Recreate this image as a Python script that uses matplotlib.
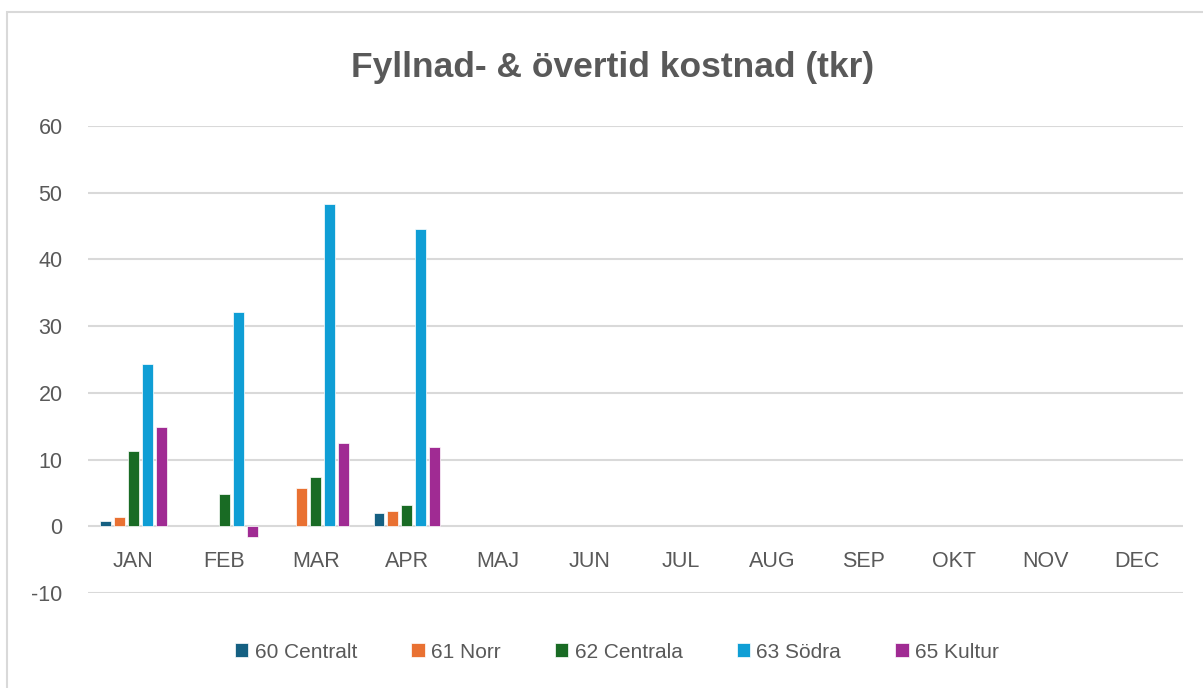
import matplotlib.pyplot as plt
import matplotlib.patches as patches
import numpy as np

# Data (empty months have no values)
months = ["JAN", "FEB", "MAR", "APR", "MAJ", "JUN", "JUL", "AUG", "SEP", "OKT", "NOV", "DEC"]
series_names = ["60 Centralt", "61 Norr", "62 Centrala", "63 Södra", "65 Kultur"]
centralt = [0.8, np.nan, np.nan, 1.95]
norr = [1.45, np.nan, 5.8, 2.35]
centrala = [11.25, 4.9, 7.35, 3.25]
sodra = [24.35, 32.15, 48.3, 44.6]
kultur = [14.95, -1.55, 12.55, 11.95]
colors = ["#156082", "#E97132", "#196B24", "#0F9ED5", "#A02B93"]

plt.rcParams["font.family"] = ["Liberation Sans", "DejaVu Sans"]
plt.rcParams["axes.unicode_minus"] = False
text_color = "#595959"

fig = plt.figure(figsize=(12.03, 6.88), dpi=100)
# outer chart border
fig.patches.append(patches.Rectangle((7 / 1203, -0.1), 1.2, (688 - 12) / 688 + 0.1,
                                     transform=fig.transFigure, fill=False,
                                     edgecolor="#d9d9d9", linewidth=1.5))

ax = fig.add_axes([87.5 / 1203, 1 - 593 / 688, (1182.6 - 87.5) / 1203, (593 - 126) / 688])

x = np.arange(len(months))
width = 0.12
step = 0.153
for i, (vals, name) in enumerate(zip([centralt, norr, centrala, sodra, kultur], series_names)):
    ax.bar(x[:len(vals)] + (i - 2) * step, vals, width, color=colors[i],
           edgecolor="white", linewidth=0.5, label=name, zorder=3)

ax.set_xlim(-0.5, len(months) - 0.5)
ax.set_ylim(-10, 60)
ax.set_yticks(range(-10, 61, 10))
ax.grid(axis="y", color="#d9d9d9", linewidth=1.5, zorder=0)
for s in ax.spines.values():
    s.set_visible(False)
ax.tick_params(axis="y", length=0, pad=18, labelsize=15.5, labelcolor=text_color)
ax.set_xticks([])

# month labels sit just under the zero line
for xi, m in zip(x, months):
    ax.text(xi, -5.3, m, ha="center", va="center", fontsize=15.5, color=text_color)

fig.text(613 / 1203, 1 - 67 / 688, "Fyllnad- & övertid kostnad (tkr)", ha="center", va="center",
         fontsize=25.5, fontweight="bold", color=text_color)

fig.legend(loc="center", bbox_to_anchor=(617 / 1203, 1 - 652 / 688), ncol=5, frameon=False,
           labelcolor=text_color, handlelength=0.65, handleheight=0.65,
           handletextpad=0.3, columnspacing=2.6, prop={"size": 15})

fig.savefig("out.png", dpi=100)
